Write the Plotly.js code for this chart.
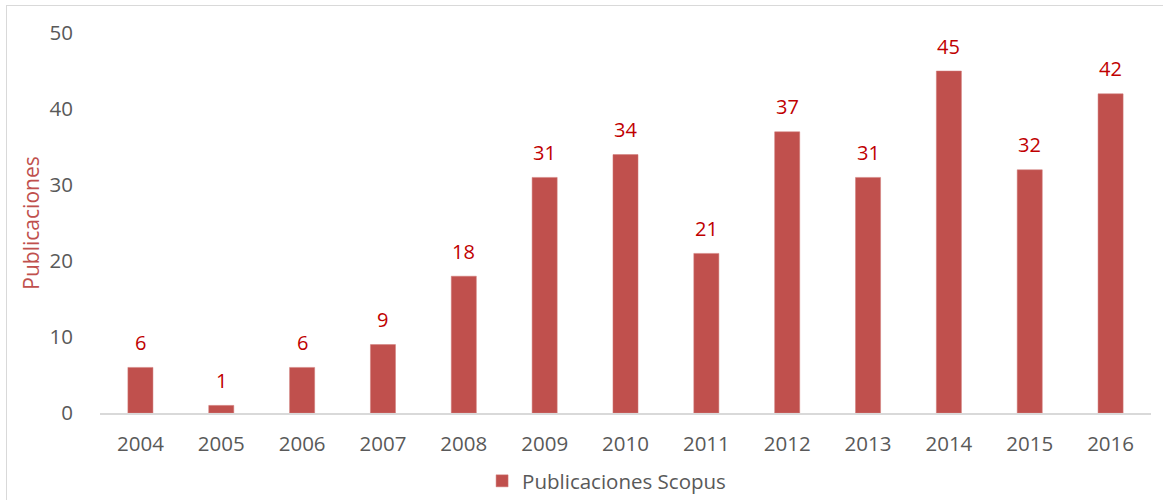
<!DOCTYPE html>
<html>
<head>
<meta charset="utf-8">
<script src="https://cdn.plot.ly/plotly-3.0.1.min.js"></script>
<style>
  html, body { margin: 0; padding: 0; background: #ffffff; }
  #wrap { position: relative; width: 1163px; height: 500px; overflow: hidden; }
  #frame { position: absolute; left: 6px; top: 5px; width: 1200px; height: 600px;
           border-left: 1.5px solid #d9d9d9; border-top: 1.5px solid #d9d9d9; box-sizing: border-box; pointer-events: none; }
  #chart { position: absolute; left: 0; top: 0; width: 1163px; height: 500px; }
</style>
</head>
<body>
<div id="wrap">
  <div id="chart"></div>
  <div id="frame"></div>
</div>
<script>
const years = ["2004","2005","2006","2007","2008","2009","2010","2011","2012","2013","2014","2015","2016"];
const publicaciones = [6, 1, 6, 9, 18, 31, 34, 21, 37, 31, 45, 32, 42];
const seriesName = "Publicaciones Scopus";
const yTitle = "Publicaciones";
const yTicks = [0, 10, 20, 30, 40, 50];

const FONT = "'Open Sans', 'Liberation Sans', sans-serif";

const trace = {
  type: "bar",
  x: years,
  y: publicaciones,
  name: seriesName,
  marker: { color: "#c0504d", line: { color: "#d07a78", width: 0.5 } },
  hoverinfo: "x+y"
};

// annotations reference categories by their index on the category axis
const annotations = years.map((yr, i) => ({
  x: i, y: publicaciones[i], xref: "x", yref: "y",
  text: String(publicaciones[i]),
  showarrow: false, yanchor: "middle", xanchor: "center", yshift: 25,
  font: { family: FONT, size: 20, color: "#c00000" }
}));

const layout = {
  width: 1163, height: 500,
  margin: { l: 100, r: 12, t: 33, b: 87, pad: 0, autoexpand: false },
  paper_bgcolor: "rgba(0,0,0,0)",
  plot_bgcolor: "rgba(0,0,0,0)",
  bargap: 0.69,
  showlegend: true,
  legend: {
    orientation: "h", x: 0.482, xanchor: "center",
    yref: "container", y: 0.038, yanchor: "middle",
    font: { family: FONT, size: 20.5, color: "#595959" },
    itemwidth: 30
  },
  xaxis: {
    type: "category",
    categoryorder: "array", categoryarray: years,
    range: [-0.5, years.length - 0.5],
    showline: true, linecolor: "#d9d9d9", linewidth: 1.5,
    showgrid: false, zeroline: false,
    ticks: "outside", ticklen: 12, tickcolor: "rgba(0,0,0,0)",
    tickfont: { family: FONT, size: 20.5, color: "#595959" },
    automargin: false
  },
  yaxis: {
    range: [0, 50], tickvals: yTicks, ticktext: yTicks.map(String),
    showline: false, showgrid: false, zeroline: false,
    ticks: "outside", ticklen: 22, tickcolor: "rgba(0,0,0,0)",
    tickfont: { family: FONT, size: 20.5, color: "#595959" },
    title: { text: yTitle, standoff: 4, font: { family: FONT, size: 21, color: "#c0504d" } },
    automargin: false
  },
  annotations: annotations
};

Plotly.newPlot("chart", [trace], layout, { displayModeBar: false, staticPlot: true });
</script>
</body>
</html>
